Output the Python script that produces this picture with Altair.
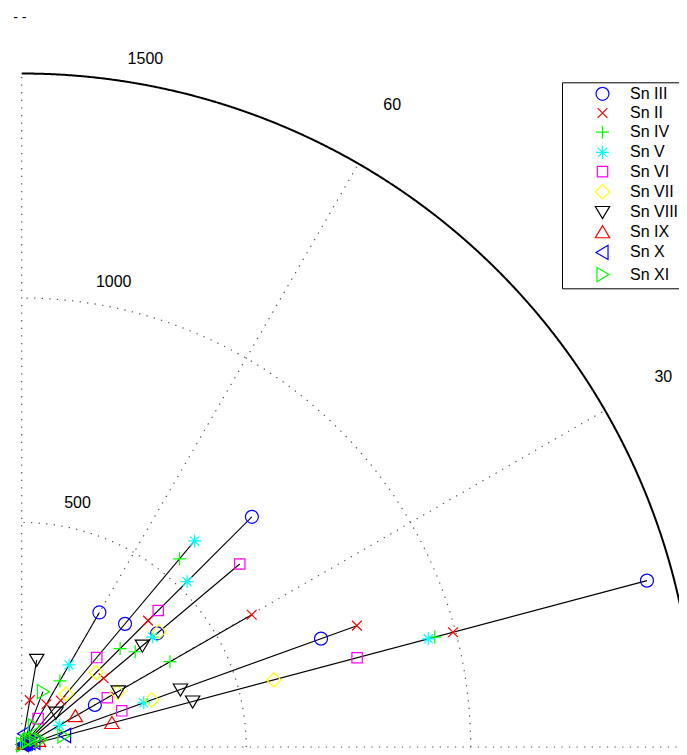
import altair as alt
import pandas as pd

# ---------------- data ----------------
# angle (deg) of each black spoke line drawn from the origin
line_angle = [14.9, 19.9, 29.9, 40.0, 45.0, 50.0, 60.0, 69.0, 80.2]

series = ["Sn III", "Sn II", "Sn IV", "Sn V", "Sn VI",
          "Sn VII", "Sn VIII", "Sn IX", "Sn X", "Sn XI"]

# radius of each series' marker on each line (None = no marker)
r_sn3 = [1441, 709, 188, 394, 725, 358, 346, None, None]
r_sn2 = [994, 794, 591, 238, 398, 135, 110, None, 106]
r_sn4 = [952, None, 381, 330, 310, 547, 170, None, None]
r_sn5 = [937, 289, 97, 381, 521, 599, 211, None, None]
r_sn6 = [773, 237, 220, 634, 430, 260, 73, None, None]
r_sn7 = [581, 308, 245, 399, 235, 154, None, None, None]
r_sn8 = [394, 376, 248, 351, 108, None, None, None, 197]
r_sn9 = [208, 40, 138, 25, 18, 12, 8, None, None]
r_sn10 = [100, 30, 20, 15, 12, 10, 8, 6, 30]
r_sn11 = [96, 45, 35, 25, 20, 15, 54, 132, 5]
radii = [r_sn3, r_sn2, r_sn4, r_sn5, r_sn6, r_sn7, r_sn8, r_sn9, r_sn10, r_sn11]

grid_radii = [500, 1000]
outer_radius = 1500
spoke_angles = [0, 30, 60, 90]
radial_labels = ["500", "1000", "1500"]
radial_label_pos = [(77.1, 557), (78.8, 1055), (79.8, 1556)]   # (deg, r)
angle_labels = ["30", "60"]
angle_label_r = 1650

# ---------------- styles ----------------
colors = ["#0000ff", "#ff0000", "#00ff00", "#00ffff", "#ff00ff",
          "#ffff00", "#000000", "#ff0000", "#0000ff", "#00ff00"]
shapes = [
    "circle",
    "M-0.75,-0.75L0.75,0.75M-0.75,0.75L0.75,-0.75",
    "M-1,0L1,0M0,-1L0,1",
    "M-1,0L1,0M0,-1L0,1M-0.7,-0.7L0.7,0.7M-0.7,0.7L0.7,-0.7",
    "M-0.8,-0.8L0.8,-0.8L0.8,0.8L-0.8,0.8Z",
    "M0,-1.1L1.1,0L0,1.1L-1.1,0Z",
    "M-1.1,-0.85L1.1,-0.85L0,1Z",
    "M-1.1,0.85L1.1,0.85L0,-1Z",
    "M0.85,-1.1L0.85,1.1L-1,0Z",
    "M-0.85,-1.1L-0.85,1.1L1,0Z",
]
FONT = "Liberation Sans"

# plot geometry: 0.449 px per data unit, origin at page (21.7, 747)
K = 0.449
W, H = 671, 747
ox, oy = 21.7 - 8, 747 - 8
xs = alt.Scale(domain=[-ox / K, (W - ox) / K], nice=False, zero=False)
ys = alt.Scale(domain=[-(H - oy) / K, oy / K], nice=False, zero=False)

# ---------------- tables ----------------
pts = []
for s, rr in zip(series, radii):
    for a, r in zip(line_angle, rr):
        if r is not None:
            pts.append({"series": s, "angle": a, "r": r})
pts = pd.DataFrame(pts)

lines = pts.groupby("angle", as_index=False)["r"].max()
lines["zero"] = 0.0

spokes = pd.DataFrame({"angle": spoke_angles, "r": [outer_radius] * len(spoke_angles), "zero": 0.0})

labels = pd.DataFrame(
    [{"text": t, "angle": a, "r": r} for t, (a, r) in zip(radial_labels, radial_label_pos)]
    + [{"text": t, "angle": float(t), "r": angle_label_r} for t in angle_labels]
)

polar = dict(px="datum.r*cos(datum.angle*PI/180)", py="datum.r*sin(datum.angle*PI/180)")

DOT = [1.3, 6.3]
DOTC = "#555555"

layers = []

def arc(R, dash, color, width):
    return alt.Chart(alt.sequence(0, 90.25, 0.25, as_="deg")).transform_calculate(
        px=f"{R}*cos(datum.deg*PI/180)", py=f"{R}*sin(datum.deg*PI/180)"
    ).mark_line(strokeDash=dash, color=color, strokeWidth=width).encode(
        x=alt.X("px:Q", scale=xs, axis=None),
        y=alt.Y("py:Q", scale=ys, axis=None),
        order="deg:Q",
    )

for R in grid_radii:
    layers.append(arc(R, DOT, DOTC, 1.2))

layers.append(
    alt.Chart(spokes).transform_calculate(**polar).mark_rule(
        strokeDash=DOT, color=DOTC, strokeWidth=1.2
    ).encode(
        x=alt.X("zero:Q", scale=xs, axis=None), y=alt.Y("zero:Q", scale=ys, axis=None),
        x2="px:Q", y2="py:Q",
    )
)
layers.append(arc(outer_radius, [1, 0], "#000000", 2))

layers.append(
    alt.Chart(lines).transform_calculate(**polar).mark_rule(color="#000000", strokeWidth=1.1).encode(
        x=alt.X("zero:Q", scale=xs, axis=None), y=alt.Y("zero:Q", scale=ys, axis=None),
        x2="px:Q", y2="py:Q",
    )
)

legend = alt.Legend(
    title=None, orient="none", legendX=554, legendY=74.3,
    strokeColor="#000000", fillColor="#ffffff", padding=3.5,
    symbolSize=169, symbolStrokeWidth=1.2, symbolOffset=29,
    labelOffset=19.5, labelFontSize=16, labelFont=FONT, labelColor="#000000",
    rowPadding=2.2, cornerRadius=0,
)

layers.append(
    alt.Chart(pts).transform_calculate(**polar).mark_point(
        filled=False, size=169, strokeWidth=1.2, opacity=1
    ).encode(
        x=alt.X("px:Q", scale=xs, axis=None),
        y=alt.Y("py:Q", scale=ys, axis=None),
        color=alt.Color("series:N", scale=alt.Scale(domain=series, range=colors), legend=legend),
        shape=alt.Shape("series:N", scale=alt.Scale(domain=series, range=shapes), legend=legend),
    )
)

layers.append(
    alt.Chart(labels).transform_calculate(**polar).mark_text(
        font=FONT, fontSize=16, color="#000000", align="center", baseline="middle"
    ).encode(
        x=alt.X("px:Q", scale=xs, axis=None), y=alt.Y("py:Q", scale=ys, axis=None), text="text:N"
    )
)

dash_note = pd.DataFrame({"text": ["- -"], "px": [-18.7], "py": [1615.8]})
layers.append(
    alt.Chart(dash_note).mark_text(font=FONT, fontSize=14, color="#000000", align="left", baseline="alphabetic").encode(
        x=alt.X("px:Q", scale=xs, axis=None), y=alt.Y("py:Q", scale=ys, axis=None), text="text:N"
    )
)

chart = alt.layer(*layers).properties(
    width=W, height=H, padding=0, autosize=alt.AutoSizeParams(type="none")
).configure_view(stroke=None)

chart.save("out.html", embed_options={"renderer": "svg", "actions": False})
